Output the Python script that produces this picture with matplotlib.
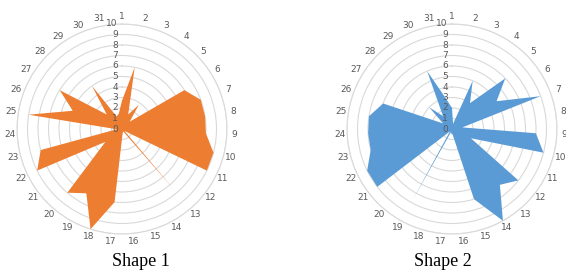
import numpy as np
import matplotlib
matplotlib.use("Agg")
import matplotlib.pyplot as plt
from matplotlib.transforms import offset_copy

categories = [str(i) for i in range(1, 32)]
shape1 = [2.7, 6, 1.5, 2.8, 1, 7, 8, 8, 8, 9, 9, 0.3, 7.6, 0.3, 0.3, 0.5,
          7, 10, 7, 8, 2, 9, 8, 0.5, 9, 5, 7, 2, 5, 1.3, 1.5]
shape2 = [2, 0.5, 5, 3, 7, 5, 9, 1, 8, 9, 2, 8, 7, 10, 7, 0.5,
          0.5, 0.3, 7.7, 0.3, 9, 9, 8, 8, 8, 7, 1, 3, 1.5, 6, 3]
radial_ticks = list(range(0, 11))
titles = ["Shape 1", "Shape 2"]
colors = ["#ED7D31", "#5B9BD5"]

W, H = 566, 271
fig = plt.figure(figsize=(W / 100, H / 100), dpi=100)

centers = [(122, 129), (452, 129)]
title_x = [141, 443]
R = 105
n = len(categories)
angles = np.arange(n) * 2 * np.pi / n

for (cx, cy), tx, vals, title, col in zip(centers, title_x, [shape1, shape2], titles, colors):
    ax = fig.add_axes([(cx - R) / W, (H - cy - R) / H, 2 * R / W, 2 * R / H],
                      projection="polar")
    ax.set_theta_zero_location("N")
    ax.set_theta_direction(-1)
    ax.set_ylim(0, 10)
    a = np.append(angles, angles[0])
    v = np.append(vals, vals[0])
    ax.fill(a, v, color=col, lw=0, zorder=3)
    ax.set_xticks(angles)
    ax.set_xticklabels(categories, fontsize=6.5, color="#595959")
    ax.tick_params(axis="x", pad=-5)
    ax.xaxis.grid(False)
    ax.set_yticks(radial_ticks[1:])
    ax.set_yticklabels([])
    ax.yaxis.grid(True, color="#D9D9D9", lw=0.8)
    ax.spines["polar"].set_color("#D9D9D9")
    ax.spines["polar"].set_linewidth(0.8)
    tr = offset_copy(ax.transData, fig=fig, x=-3, y=0, units="points")
    for r in radial_ticks:
        ax.text(0, r, str(r), transform=tr, ha="right", va="center",
                fontsize=6.5, color="#595959", zorder=5)
    fig.text(tx / W, (H - 262) / H, title,
             ha="center", va="center", fontsize=13, family="Liberation Serif")

fig.savefig("out.png", dpi=100)
